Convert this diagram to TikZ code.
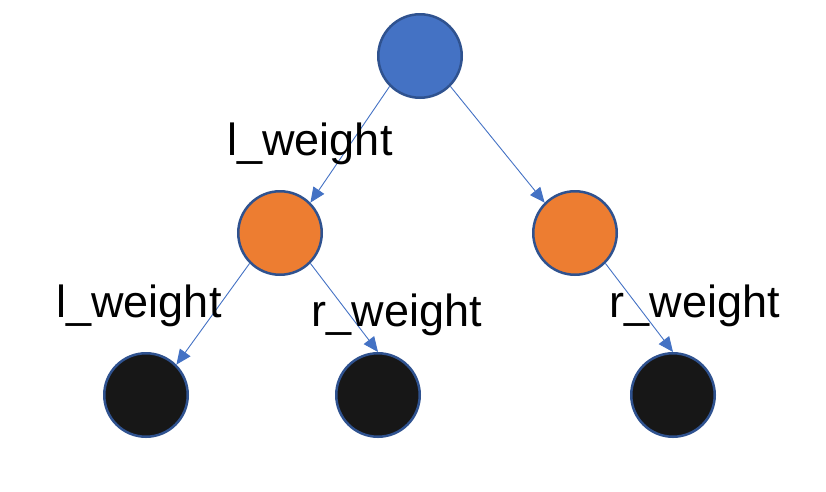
\documentclass[tikz,border=0pt]{standalone}
\usepackage{fontspec}
\setmainfont{Liberation Sans}
\usetikzlibrary{arrows.meta}

\definecolor{rootblue}{HTML}{4472C4}
\definecolor{ringblue}{HTML}{2F528F}
\definecolor{midorange}{HTML}{ED7D31}
\definecolor{leafblack}{HTML}{171717}

\begin{document}
\begin{tikzpicture}[x=1pt,y=-1pt,
    treenode/.style={circle,draw=ringblue,line width=2.5pt,minimum size=83.5pt,inner sep=0pt},
    branch/.style={draw=rootblue,line width=0.9pt,-{Triangle[length=15pt,width=13pt]}},
    weightlabel/.style={anchor=base,inner sep=0pt,font=\fontsize{45}{54}\selectfont}]

    % Fix the page to the size of the reference
    \useasboundingbox (0,0) rectangle (826,491);

    % Root of the tree
    \node[treenode,fill=rootblue] (root) at (420,56) {};

    % Second level
    \node[treenode,fill=midorange] (left) at (280,233) {};
    \node[treenode,fill=midorange] (right) at (575,233) {};

    % Leaves
    \node[treenode,fill=leafblack] (leafA) at (146,395) {};
    \node[treenode,fill=leafblack] (leafB) at (378,395) {};
    \node[treenode,fill=leafblack] (leafC) at (673,395) {};

    % Branches between the levels
    \draw[branch] (root.south west) -- (left.north east);
    \draw[branch] (root.south east) -- (right.north west);
    \draw[branch] (left.south west) -- (leafA.north east);
    \draw[branch] (left.south east) -- (leafB.north);
    \draw[branch] (right.south east) -- (leafC.north);

    % Weight labels beside the branches
    \node[weightlabel] (wtop) at (310,155) {l\_weight};
    \node[weightlabel] (wleft) at (139,317) {l\_weight};
    \node[weightlabel] (wmid) at (397,326) {r\_weight};
    \node[weightlabel] (wright) at (695,317) {r\_weight};

\end{tikzpicture}
\end{document}
